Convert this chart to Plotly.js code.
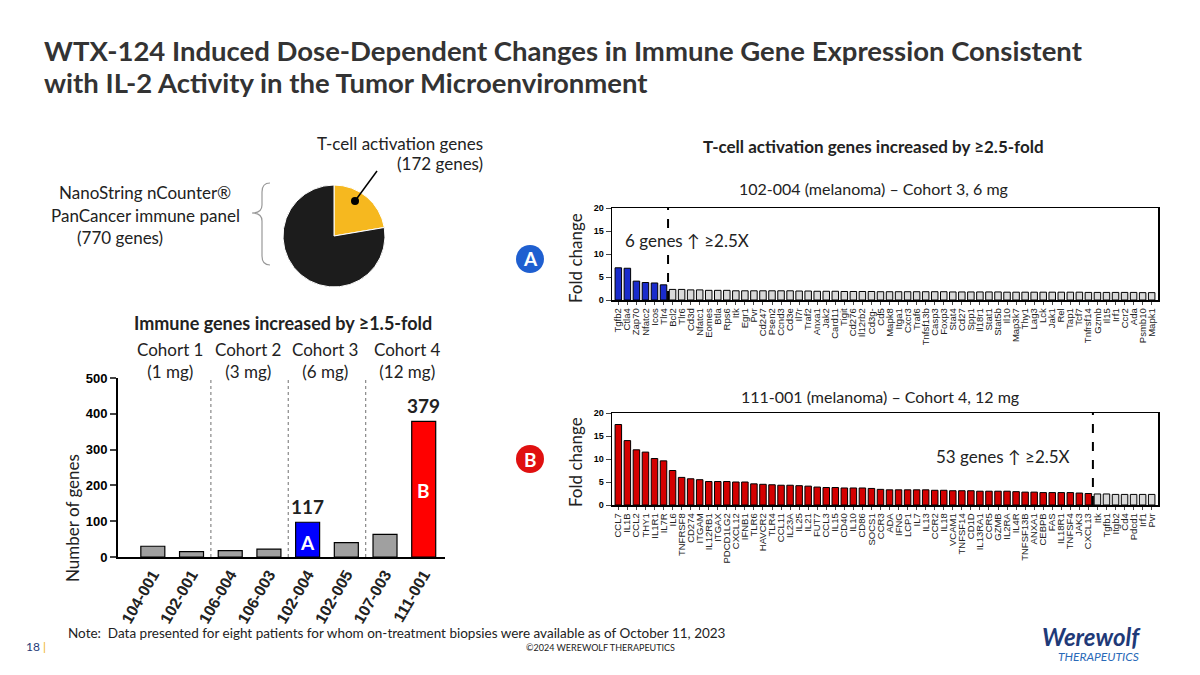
<!DOCTYPE html>
<html>
<head>
<meta charset="utf-8">
<script src="https://cdn.plot.ly/plotly-3.0.1.min.js"></script>
<style>html,body{margin:0;padding:0;background:#fff}#chart{width:1200px;height:675px}</style>
</head>
<body>
<div id="chart"></div>
<script>
// left panel: genes increased by >=1.5-fold per patient
const patients = ['104-001','102-001','106-004','106-003','102-004','102-005','107-003','111-001'];
const geneCounts = [30, 15, 18, 22, 97, 40, 63, 379];
const cohortLabels = ['Cohort 1<br>(1 mg)', 'Cohort 2<br>(3 mg)', 'Cohort 3<br>(6 mg)', 'Cohort 4<br>(12 mg)'];

// pie
const pieLabels = ['T-cell activation genes', 'Other genes'];
const pieValues = [172, 598];

// panel A: 102-004
const genesA = ['Tgfb2','Ctla4','Zap70','Nfatc2','Icos','Tlr4','Bcl2','Tlr6','Cd3d','Nfatc1','Eomes','Btla','Rps6','Itk','Egr1','Pvr',
  'Cd247','Psen2','Ccnd3','Cd3e','Il7r','Traf2','Anxa1','Jak2','Card11','Tigit','Cd276','Il12rb2','Cd3g-','Cd5','Mapk8','Itga1',
  'Cxcr3','Traf6','Tnfsf13b','Casp3','Foxp3','Stat4','Cd27','Spp1','Il18r1','Stat1','Stat5b','Il10','Map3k7','Thy1','Lag3','Lck',
  'Jak1','Rel','Tap1','Tcf7','Tnfrsf14','Gzmb','Il15','Irf1','Ccr2','Ada','Psmb10','Mapk1'];
const foldA = [7.0,6.9,4.1,3.8,3.7,3.3,2.3,2.3,2.2,2.2,2.1,2.1,2.1,2.0,2.0,2.0,2.0,2.0,2.0,2.0,1.95,1.95,1.9,1.9,1.9,1.85,1.85,1.85,1.85,1.8,
  1.8,1.8,1.8,1.8,1.8,1.8,1.8,1.75,1.75,1.75,1.75,1.75,1.75,1.7,1.7,1.7,1.7,1.7,1.7,1.7,1.7,1.7,1.65,1.65,1.65,1.65,1.65,1.65,1.6,1.6];

// panel B: 111-001
const genesB = ['CCL7','IL1B','CCL2','THY1','IL1R1','IL7R','IL6','TNFRSF8','CD274','ITGAM','IL12RB1','ITGAX','PDCD1LG2','CXCL12','IFNB1',
  'TLR6','HAVCR2','TLR4','CCL11','IL23A','IL25','IL21','FUT7','CCL3','IL15','CD40','IL10','CD86','SOCS1','CCR3','ADA','IFNG','LCP1',
  'IL7','IL13','CCR2','IL18','VCAM1','TNFSF14','CD1D','IL13RA1','CCR5','GZMB','IL2RA','IL4R','TNFSF13B','ANXA1','CEBPB','FAS',
  'IL18R1','TNFSF4','JAK3','CXCL13','Itk','Tgfb1','Itgb2','Cd4','Pdcd1','Irf1','Pvr'];
const foldB = [17.5,14.0,12.0,11.5,10.1,9.6,7.5,6.0,5.7,5.5,5.1,5.1,5.1,5.0,5.0,4.6,4.5,4.4,4.3,4.3,4.2,4.1,3.9,3.8,3.8,3.7,3.7,3.7,3.6,3.4,
  3.3,3.3,3.3,3.3,3.3,3.2,3.2,3.1,3.1,3.1,3.0,3.0,3.0,3.0,2.9,2.8,2.8,2.7,2.7,2.7,2.7,2.6,2.5,2.4,2.4,2.3,2.3,2.3,2.3,2.3];

const W = 1200, H = 675;
const X = p => p / W, Y = p => 1 - p / H;
const TXT = 'Lato, "Open Sans", sans-serif';
const ARIAL = '"Liberation Sans", Arial, sans-serif';

const leftColors = geneCounts.map((v, i) => i === 4 ? '#0000ff' : i === 7 ? '#ff0000' : '#a0a0a0');
const colA = foldA.map((v, i) => i < 6 ? '#1a2ccc' : '#d9d9d9');
const colB = foldB.map((v, i) => i < 53 ? '#d40000' : '#d9d9d9');

const traces = [
  {type:'bar', x:patients.map((p, i) => i), y:geneCounts, xaxis:'x', yaxis:'y', width:0.62,
   marker:{color:leftColors, line:{color:'#000', width:1.2}}, hoverinfo:'y'},
  {type:'bar', x:genesA.map((g, i) => i), y:foldA, xaxis:'x2', yaxis:'y2', width:0.72,
   marker:{color:colA, line:{color:'#000', width:1}}},
  {type:'bar', x:genesB.map((g, i) => i), y:foldB, xaxis:'x3', yaxis:'y3', width:0.72,
   marker:{color:colB, line:{color:'#000', width:1}}},
  {type:'pie', labels:pieLabels, values:pieValues, sort:false, direction:'clockwise', rotation:0,
   marker:{colors:['#f6b81f','#1c1c1c'], line:{color:'#fff', width:1}}, textinfo:'none', hoverinfo:'label+value',
   domain:{x:[X(283), X(385)], y:[Y(287), Y(185)]}, showlegend:false}
];

const geneAxis = (labels, left) => ({
  domain:[X(left), X(1158)], range:[-0.7, 59.7], tickmode:'array', tickvals:labels.map((g, i) => i), ticktext:labels,
  tickangle:-90, tickfont:{family:ARIAL, size:9.5, color:'#222'}, showline:true, mirror:true, linecolor:'#000', linewidth:1.5,
  ticks:'outside', ticklen:3, showgrid:false, zeroline:false, fixedrange:true
});
const foldAxis = (top, bottom) => ({
  domain:[Y(bottom), Y(top)], range:[0, 20], tickvals:[0,5,10,15,20], showline:true, mirror:true, linecolor:'#000',
  linewidth:1.5, ticks:'outside', ticklen:5, tickfont:{family:ARIAL, size:9, color:'#000', weight:'bold'},
  showgrid:false, zeroline:false, fixedrange:true
});

const ann = (x, y, text, size, opts = {}) => Object.assign({xref:'paper', yref:'paper', x:X(x), y:Y(y), text, showarrow:false,
  font:{family:TXT, size, color:'#222'}, xanchor:'center', yanchor:'middle'}, opts);

const annotations = [
  ann(42, 50, '<b>WTX-124 Induced Dose-Dependent Changes in Immune Gene Expression Consistent</b>', 27.5, {xanchor:'left', font:{family:TXT, size:27.5, color:'#333'}}),
  ann(42, 83, '<b>with IL-2 Activity in the Tumor Microenvironment</b>', 27.5, {xanchor:'left', font:{family:TXT, size:27.5, color:'#333'}}),
  ann(400, 143, 'T-cell activation genes', 17),
  ann(440, 163, '(172 genes)', 17),
  ann(145, 192, 'NanoString nCounter®', 17),
  ann(145, 215, 'PanCancer immune panel', 17),
  ann(120, 237, '(770 genes)', 17),
  ann(283, 323, '<b>Immune genes increased by ≥1.5-fold</b>', 18),
  ann(873, 147, '<b>T-cell activation genes increased by ≥2.5-fold</b>', 17),
  ann(873, 188, '102-004 (melanoma) – Cohort 3, 6 mg', 16),
  ann(880, 396, '111-001 (melanoma) – Cohort 4, 12 mg', 16),
  ann(687, 240, '6 genes ↑ ≥2.5X', 17, {bgcolor:'#fff'}),
  ann(1003, 456, '53 genes ↑ ≥2.5X', 17),
  ann(575, 258, 'Fold change', 17, {textangle:-90}),
  ann(575, 462, 'Fold change', 17, {textangle:-90}),
  ann(72, 518, 'Number of genes', 17, {textangle:-90}),
  ann(530, 259, '<b>A</b>', 19, {font:{family:TXT, size:19, color:'#fff'}}),
  ann(530, 459, '<b>B</b>', 19, {font:{family:TXT, size:19, color:'#fff'}}),
  ann(66, 633, 'Note:  Data presented for eight patients for whom on-treatment biopsies were available as of October 11, 2023', 13.5, {xanchor:'left'}),
  ann(24, 646, '18 <span style="color:#f0b323">|</span>', 12, {xanchor:'left', font:{family:TXT, size:12, color:'#1f3a78'}}),
  ann(600, 647, '©2024 WEREWOLF THERAPEUTICS', 9),
  ann(1091, 636, '<b><i>Werewolf</i></b>', 24, {font:{family:TXT, size:24, color:'#1f3a78'}}),
  ann(1098, 656, '<i>THERAPEUTICS</i>', 12, {font:{family:TXT, size:12, color:'#2a6ab8'}}),
  {xref:'x', yref:'y', x:4, y:geneCounts[4], text:'<b>117</b>', showarrow:false, yanchor:'bottom', yshift:2, font:{family:TXT, size:19, color:'#222'}},
  {xref:'x', yref:'y', x:7, y:geneCounts[7], text:'<b>379</b>', showarrow:false, yanchor:'bottom', yshift:2, font:{family:TXT, size:19, color:'#222'}},
  {xref:'x', yref:'y', x:4, y:40, text:'<b>A</b>', showarrow:false, font:{family:TXT, size:19, color:'#fff'}},
  {xref:'x', yref:'y', x:7, y:185, text:'<b>B</b>', showarrow:false, font:{family:TXT, size:19, color:'#fff'}}
];
cohortLabels.forEach((c, i) => annotations.push(ann([170, 248, 325, 407][i], 360, c, 17)));

const bx = 262;
const brace = `M ${X(270)},${Y(183)} Q ${X(bx)},${Y(183)} ${X(bx)},${Y(192)} L ${X(bx)},${Y(205)} Q ${X(bx)},${Y(213)} ${X(252)},${Y(213)} ` +
  `Q ${X(bx)},${Y(213)} ${X(bx)},${Y(221)} L ${X(bx)},${Y(256)} Q ${X(bx)},${Y(265)} ${X(270)},${Y(265)}`;

const shapes = [
  {type:'path', xref:'paper', yref:'paper', path:brace, line:{color:'#999', width:1.2}},
  {type:'line', xref:'paper', yref:'paper', x0:X(355), y0:Y(201), x1:X(377), y1:Y(171), line:{color:'#000', width:1.5}},
  {type:'circle', xref:'paper', yref:'paper', x0:X(351), x1:X(359), y0:Y(205), y1:Y(197), fillcolor:'#000', line:{width:0}},
  {type:'circle', xref:'paper', yref:'paper', x0:X(516), x1:X(544), y0:Y(273), y1:Y(245), fillcolor:'#1f5fd0', line:{width:0}},
  {type:'circle', xref:'paper', yref:'paper', x0:X(516), x1:X(544), y0:Y(473), y1:Y(445), fillcolor:'#e01010', line:{width:0}},
  {type:'line', xref:'x2', yref:'y2', x0:5.5, x1:5.5, y0:0, y1:20, line:{color:'#000', width:2, dash:'dash'}},
  {type:'line', xref:'x3', yref:'y3', x0:52.5, x1:52.5, y0:0, y1:20, line:{color:'#000', width:2, dash:'dash'}}
];
[1.5, 3.5, 5.5].forEach(v => shapes.push({type:'line', xref:'x', yref:'y', x0:v, x1:v, y0:0, y1:500,
  line:{color:'#888', width:1.2, dash:'dot'}}));

const layout = {
  width:W, height:H, margin:{l:0, r:0, t:0, b:0}, paper_bgcolor:'#fff', plot_bgcolor:'rgba(0,0,0,0)',
  showlegend:false, bargap:0,
  xaxis:{domain:[X(118), X(445)], range:[-0.9, 7.55], tickmode:'array', tickvals:patients.map((p, i) => i), ticktext:patients.map(p => '<b>' + p + '</b>'),
    tickangle:-60, tickfont:{family:ARIAL, size:16, color:'#222'}, showline:true, linecolor:'#000', linewidth:2,
    ticks:'', showgrid:false, zeroline:false, fixedrange:true},
  yaxis:{domain:[Y(557), Y(378)], range:[0, 500], tickvals:[0,100,200,300,400,500], showline:true, linecolor:'#000', linewidth:2,
    ticks:'outside', ticklen:6, tickwidth:2, tickfont:{family:ARIAL, size:13, color:'#000', weight:'bold'}, showgrid:false, zeroline:false, fixedrange:true},
  xaxis2:Object.assign(geneAxis(genesA, 612), {anchor:'y2'}),
  yaxis2:Object.assign(foldAxis(208, 300), {anchor:'x2'}),
  xaxis3:Object.assign(geneAxis(genesB, 612), {anchor:'y3'}),
  yaxis3:Object.assign(foldAxis(413, 505), {anchor:'x3'}),
  annotations, shapes
};

Plotly.newPlot('chart', traces, layout, {displayModeBar:false, staticPlot:true});
</script>
</body>
</html>
